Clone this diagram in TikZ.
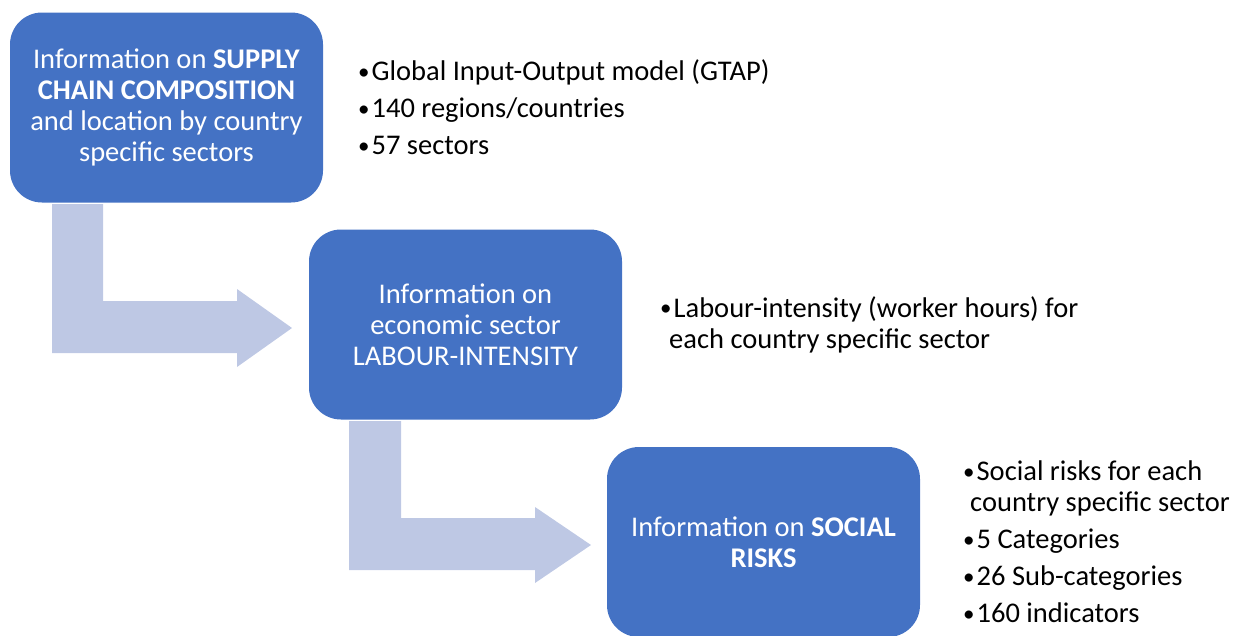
\documentclass[tikz,border=0pt]{standalone}
\usepackage{fontspec}
\setmainfont{Carlito}
\definecolor{boxblue}{HTML}{4472C4}
\definecolor{flowlav}{RGB}{190,200,228}
% smaller list bullet with a little space after it
\newcommand\itembullet{{\fontsize{23}{31}\selectfont\raisebox{1.2pt}{•}}\kern2pt}
\begin{document}
\begin{tikzpicture}[x=1pt,y=-1pt,
  stage/.style={fill=boxblue, rounded corners=32pt, text=white, align=center,
    font=\fontsize{28.5}{31}\selectfont, minimum width=313pt, minimum height=190pt, inner sep=0pt},
  notes/.style={anchor=west, align=left, text=black, inner sep=0pt,
    font=\fontsize{28.5}{31}\selectfont},
  flow/.style={fill=flowlav, draw=none}]
\useasboundingbox (0,0) rectangle (1240,635);

% bent block arrows between the stages
\fill[flow] (52,204) -- (103,204) -- (103,301) -- (237,301) -- (237,289) -- (292,328)
  -- (237,367) -- (237,353) -- (52,353) -- cycle;
\fill[flow] (349,421) -- (401,421) -- (401,518) -- (535,518) -- (535,507) -- (591,545)
  -- (535,583) -- (535,570) -- (349,570) -- cycle;

% stages
\node[stage] (s1) at (166.5,107.5) {Information on \textbf{SUPPLY}\\\textbf{CHAIN COMPOSITION}\\and location by country\\specific sectors};
\node[stage] (s2) at (465.5,324.5) {Information on\\economic sector\\LABOUR-INTENSITY};
\node[stage] (s3) at (763.5,542) {Information on \textbf{SOCIAL}\\\textbf{RISKS}};

% notes beside each stage
\node[notes] (n1) at (358,107) {\itembullet Global Input-Output model (GTAP)\\[6pt]\itembullet 140 regions/countries\\[6pt]\itembullet 57 sectors};
\node[notes] (n2) at (660,324.5) {\itembullet Labour-intensity (worker hours) for\\\hspace{9pt}each country specific sector};
\node[notes] (n3) at (963,542) {\itembullet Social risks for each\\\hspace{7pt}country specific sector\\[6pt]\itembullet 5 Categories\\[6pt]\itembullet 26 Sub-categories\\[6pt]\itembullet 160 indicators};
\end{tikzpicture}
\end{document}
